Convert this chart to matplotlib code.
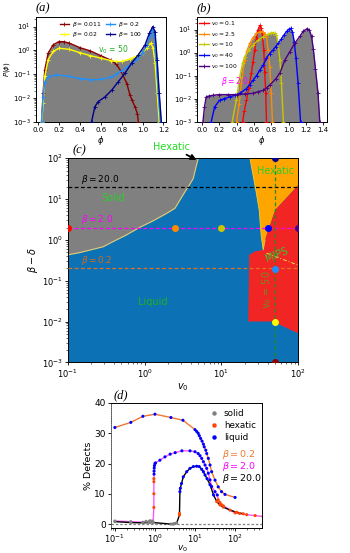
import matplotlib
matplotlib.use('Agg')
import matplotlib.pyplot as plt
import numpy as np

# ---------------- data: panel (a)  P(phi) at v0 = 50 ----------------
a_labels = [r'$\beta = 0.011$', r'$\beta = 0.02$', r'$\beta = 0.2$', r'$\beta = 100$']
a_colors = ['#8B0000', '#FFFF00', '#1E90FF', '#00008B']
a_phi_0011 = [0.033, 0.048, 0.064, 0.096, 0.144, 0.2, 0.25, 0.3, 0.4, 0.5, 0.6, 0.7, 0.75, 0.8, 0.85, 0.88, 0.9, 0.93, 0.95, 0.96]
a_p_0011 = [0.001, 0.016, 0.15, 0.76, 1.7, 2.35, 2.3, 2.0, 1.3, 0.95, 0.6, 0.38, 0.26, 0.12, 0.04, 0.013, 0.008, 0.004, 0.0022, 0.001]
a_phi_002 = [0.035, 0.048, 0.064, 0.096, 0.144, 0.2, 0.3, 0.4, 0.5, 0.6, 0.7, 0.75, 0.8, 0.88, 0.95, 1.0, 1.04, 1.08, 1.1, 1.12, 1.14, 1.16]
a_p_002 = [0.001, 0.006, 0.08, 0.4, 0.9, 1.23, 1.1, 0.8, 0.6, 0.47, 0.37, 0.34, 0.34, 0.43, 0.6, 0.8, 1.23, 2.0, 1.3, 0.3, 0.016, 0.001]
a_phi_02 = [0.033, 0.048, 0.064, 0.096, 0.176, 0.3, 0.4, 0.5, 0.6, 0.7, 0.75, 0.8, 0.85, 0.9, 0.95, 1.0, 1.04, 1.07, 1.09, 1.11, 1.13, 1.15, 1.17]
a_p_02 = [0.001, 0.011, 0.048, 0.079, 0.093, 0.08, 0.065, 0.058, 0.06, 0.075, 0.1, 0.14, 0.2, 0.28, 0.42, 0.8, 1.6, 4.0, 7.5, 4.5, 0.5, 0.016, 0.001]
a_phi_100 = [0.512, 0.544, 0.576, 0.64, 0.704, 0.768, 0.832, 0.896, 0.96, 1.024, 1.066, 1.098, 1.12, 1.14, 1.16, 1.18]
a_p_100 = [0.001, 0.0043, 0.007, 0.011, 0.021, 0.048, 0.11, 0.29, 0.65, 1.7, 5.3, 10, 6, 0.4, 0.016, 0.001]

# ---------------- data: panel (b)  P(phi) at beta = 2 ----------------
b_labels = [r'$v_0 = 0.1$', r'$v_0 = 2.5$', r'$v_0 = 10$', r'$v_0 = 40$', r'$v_0 = 100$']
b_colors = ['#FF0000', '#FF8C00', '#C8C800', '#0000FF', '#4B0082']
b_phi_01 = [0.47, 0.49, 0.514, 0.54, 0.571, 0.59, 0.61, 0.63, 0.648, 0.668, 0.685, 0.7, 0.714, 0.725, 0.737, 0.745]
b_p_01 = [0.001, 0.003, 0.0085, 0.03, 0.126, 0.4, 1.3, 4.5, 10, 15, 12, 5, 1.3, 0.15, 0.017, 0.001]
b_phi_25 = [0.40, 0.43, 0.455, 0.494, 0.52, 0.552, 0.59, 0.629, 0.67, 0.706, 0.73, 0.745, 0.764, 0.783, 0.80, 0.814]
b_p_25 = [0.001, 0.006, 0.046, 0.47, 1.2, 2.5, 4.5, 6.8, 8.0, 8.0, 6.5, 4.9, 1.3, 0.24, 0.017, 0.001]
b_phi_10 = [0.35, 0.397, 0.436, 0.47, 0.494, 0.54, 0.59, 0.65, 0.706, 0.76, 0.80, 0.822, 0.845, 0.86, 0.88, 0.9, 0.918, 0.94]
b_p_10 = [0.001, 0.0085, 0.089, 0.35, 0.66, 1.3, 2.1, 3.5, 4.9, 6.2, 7.2, 7.3, 6.8, 5.7, 2.5, 0.47, 0.046, 0.001]
b_phi_40 = [0.108, 0.147, 0.204, 0.26, 0.32, 0.38, 0.436, 0.513, 0.55, 0.59, 0.63, 0.667, 0.71, 0.745, 0.78, 0.822, 0.85, 0.88, 0.918, 0.95, 0.98, 1.005, 1.025, 1.045, 1.065, 1.085, 1.11, 1.138]
b_p_40 = [0.001, 0.0044, 0.0085, 0.01, 0.012, 0.014, 0.017, 0.027, 0.04, 0.063, 0.1, 0.17, 0.3, 0.56, 0.9, 1.3, 1.8, 2.5, 4.0, 6.0, 8.5, 10.5, 11.2, 8, 3, 0.6, 0.046, 0.001]
b_phi_100 = [0.012, 0.03, 0.05, 0.08, 0.127, 0.2, 0.3, 0.4, 0.5, 0.59, 0.65, 0.706, 0.75, 0.783, 0.85, 0.9, 0.957, 1.015, 1.07, 1.13, 1.17, 1.215, 1.24, 1.265, 1.285, 1.31, 1.34, 1.36]
b_p_100 = [0.001, 0.0044, 0.012, 0.013, 0.014, 0.015, 0.015, 0.015, 0.016, 0.017, 0.02, 0.023, 0.03, 0.039, 0.07, 0.13, 0.47, 1.1, 2.5, 5.0, 8.5, 11, 9.5, 5.0, 1.5, 0.2, 0.017, 0.001]

# ---------------- data: panel (c) phase diagram ----------------
c_solid_v0 = [0.1, 0.145, 0.216, 0.29, 0.39, 0.58, 0.87, 1.3, 1.94, 2.49, 2.89, 3.36, 3.71, 4.3, 4.68, 5.0]
c_solid_bd = [0.43, 0.49, 0.59, 0.68, 0.91, 1.32, 2.04, 2.95, 4.47, 5.96, 9.5, 15.2, 20, 32, 62, 100]
c_hex_v0 = [23.5, 100, 100, 50, 37, 35, 33, 31, 28, 25.5]
c_hex_bd = [100, 100, 22, 5.4, 1.0, 0.57, 1.2, 5.4, 16.7, 43]
c_mips_v0 = [100, 50, 37, 35, 27.3, 23, 22.3, 47, 100]
c_mips_bd = [22, 5.4, 1.0, 0.57, 0.52, 0.43, 0.01, 0.01, 0.0051]
c_mipsline_v0 = [38.7, 100]
c_mipsline_bd = [0.47, 0.24]
c_beta_lines = [20.0, 2.0, 0.2]
c_beta_colors = ['black', '#FF00FF', '#E07020']
c_beta_texts = [r'$\beta = 20.0$', r'$\beta = 2.0$', r'$\beta = 0.2$']
c_v0_line = 50
c_b2_v0 = [0.1, 2.5, 10, 40, 100]
c_v50_bd = [0.001, 0.01, 0.19, 99.99]
c_v50_colors = ['#8B0000', '#FFFF00', '#1E90FF', '#00008B']

# ---------------- data: panel (d) % defects ----------------
d_b02_v0 = [0.1, 0.25, 0.5, 1.0, 2.5, 5.0, 10, 11, 12, 12.8, 13.8, 15, 16.2, 17, 18.6, 19.6, 21.5, 23.7, 26, 31.6, 38, 46, 56, 100]
d_b02_def = [31.9, 33.6, 35.6, 36.3, 35.2, 34.3, 31.2, 30.6, 30.0, 29.2, 28.3, 27.4, 26.4, 25.5, 24.4, 23.3, 21.7, 19.5, 17.3, 14.5, 12.3, 10.7, 9.8, 8.8]
d_b02_phase = ['L'] * 24
d_b2_v0 = [0.1, 0.25, 0.5, 0.6, 0.7, 0.75, 0.8, 0.85, 0.9, 0.94, 0.94, 0.94, 0.94, 0.95, 0.95, 0.96, 0.97, 1.0, 1.03, 1.33, 1.78, 2.4, 3.2, 4.7, 7.5, 10, 12, 13.3, 14.7, 16.2, 17.8, 19.6, 21.5, 23.7, 26, 31.6, 36, 38, 42, 46, 51, 100, 130, 195, 316, 500]
d_b2_def = [1.0, 0.8, 0.6, 0.9, 0.7, 1.1, 0.8, 1.0, 0.7, 5.5, 10, 14, 15, 16.5, 17.5, 18.5, 19.3, 20.0, 20.2, 21.1, 22.2, 23.1, 23.6, 24.2, 24.2, 23.9, 23.3, 22.6, 21.7, 20.6, 19.5, 18.4, 16.8, 14.6, 12.4, 10.7, 9.6, 8.0, 7.1, 6.4, 6.0, 3.7, 3.5, 3.1, 2.8, 2.5]
d_b2_phase = ['S'] * 9 + ['H'] * 4 + ['L'] * 24 + ['H'] * 9
d_b20_v0 = [0.1, 0.25, 0.5, 0.75, 0.9, 2.5, 2.8, 3.0, 3.2, 3.5, 4.1, 4.1, 4.2, 4.3, 4.6, 5.1, 6.2, 7.5, 9.1, 11, 12.7, 14.7, 16.2, 17.8, 20, 23.7, 29, 35, 42, 51, 75, 110, 160]
d_b20_def = [0.8, 0.5, 0.4, 0.5, 0.5, 0.0, 0.0, 0.1, 0.2, 0.4, 3.0, 3.5, 10.7, 11.8, 13.4, 15.6, 17.3, 18.4, 19.0, 19.1, 19.0, 18.1, 17.3, 16.2, 15.0, 13.0, 9.6, 7.4, 6.3, 5.6, 4.6, 3.9, 3.4]
d_b20_phase = ['S'] * 10 + ['H'] * 2 + ['L'] * 15 + ['H'] * 6
d_phase_names = {'S': 'solid', 'H': 'hexatic', 'L': 'liquid'}
d_phase_colors = {'S': '#808080', 'H': '#FF4500', 'L': '#0000FF'}

# ---------------- style ----------------
plt.rcParams.update({
    'font.family': ['DejaVu Sans'],
    'axes.linewidth': 0.7,
    'xtick.major.width': 0.6, 'ytick.major.width': 0.6,
    'xtick.minor.width': 0.4, 'ytick.minor.width': 0.4,
    'xtick.major.size': 2.5, 'ytick.major.size': 2.5,
    'xtick.minor.size': 1.5, 'ytick.minor.size': 1.5,
    'xtick.major.pad': 1.5, 'ytick.major.pad': 1.2,
})

W, H = 350, 553
fig = plt.figure(figsize=(W / 100, H / 100), dpi=100)


def rect(l, t, r, b):
    return [l / W, 1 - b / H, (r - l) / W, (b - t) / H]


axA = fig.add_axes(rect(36, 16.7, 165.5, 121.7))
axB = fig.add_axes(rect(196.7, 16.7, 326.7, 121.7))
axC = fig.add_axes(rect(67.7, 158.3, 298.3, 362.3))
axD = fig.add_axes(rect(111, 403, 262, 528))

GRAY = '#808080'
panel_font = dict(family='Liberation Serif', style='italic', fontsize=9)

# ---------------- panel (a) ----------------
a_series = [(a_phi_0011, a_p_0011), (a_phi_002, a_p_002), (a_phi_02, a_p_02), (a_phi_100, a_p_100)]
for x, y in a_series:
    axA.fill_between(x, y, 1e-5, color=GRAY, lw=0, zorder=1)
for (x, y), c, lab in zip(a_series, a_colors, a_labels):
    axA.plot(x, y, color=c, lw=1.0, marker='+', ms=2.5, mew=0.6, label=lab, zorder=3)
axA.set_yscale('log')
axA.set_ylim(1e-3, 26)
axA.set_xlim(-0.02, 1.22)
axA.set_xticks([0.0, 0.2, 0.4, 0.6, 0.8, 1.0, 1.2])
axA.tick_params(labelsize=5)
axA.set_xlabel(r'$\phi$', fontsize=6, labelpad=0.5)
axA.set_ylabel(r'$P(\phi)$', fontsize=5, labelpad=1)
axA.legend(ncol=2, loc='upper center', fontsize=4.3, frameon=False, handlelength=1.6,
           columnspacing=0.7, labelspacing=0.25, handletextpad=0.4, borderaxespad=0.15)
axA.text(0.72, 1.05, r'v$_0$ = 50', color='#22AA22', fontsize=5.5, ha='center', va='center', zorder=4)
axA.text(0.0, 1.02, '(a)', transform=axA.transAxes, ha='left', va='bottom', **panel_font)

# ---------------- panel (b) ----------------
b_series = [(b_phi_01, b_p_01), (b_phi_25, b_p_25), (b_phi_10, b_p_10), (b_phi_40, b_p_40), (b_phi_100, b_p_100)]
for x, y in b_series:
    axB.fill_between(x, y, 1e-5, color=GRAY, lw=0, zorder=1)
for (x, y), c, lab in zip(b_series, b_colors, b_labels):
    axB.plot(x, y, color=c, lw=1.0, marker='+', ms=2.5, mew=0.6, label=lab, zorder=3)
axB.set_yscale('log')
axB.set_ylim(1e-3, 36)
axB.set_xlim(-0.06, 1.44)
axB.set_xticks([0.0, 0.2, 0.4, 0.6, 0.8, 1.0, 1.2, 1.4])
axB.tick_params(labelsize=5)
axB.set_xlabel(r'$\phi$', fontsize=6, labelpad=0.5)
axB.legend(loc='upper left', fontsize=4.3, frameon=False, handlelength=1.6,
           labelspacing=0.3, handletextpad=0.4, borderaxespad=0.1, borderpad=0.3)
axB.text(0.22, 0.055, r'$\beta = 2.0$', color='#FF00FF', fontsize=5.5, ha='left', va='center', zorder=4)
axB.text(0.0, 1.02, '(b)', transform=axB.transAxes, ha='left', va='bottom', **panel_font)

# ---------------- panel (c) ----------------
axC.set_xscale('log')
axC.set_yscale('log')
axC.set_xlim(0.1, 100)
axC.set_ylim(1e-3, 100)
axC.set_facecolor('#0C72B5')
axC.fill(c_solid_v0 + [0.1], c_solid_bd + [100], color=GRAY, lw=0, zorder=1)
axC.plot(c_solid_v0, c_solid_bd, color='#E6CF72', lw=0.8, zorder=2)
axC.fill(c_hex_v0, c_hex_bd, color='#FFA500', lw=0, zorder=1)
axC.plot(c_hex_v0[4:] + [c_hex_v0[0]], c_hex_bd[4:] + [c_hex_bd[0]], color='#F2D030', lw=0.6, zorder=2)
axC.fill(c_mips_v0, c_mips_bd, color='#F22525', lw=0, zorder=1)
axC.plot(c_mipsline_v0, c_mipsline_bd, color='#F0E040', lw=0.7, ls=(0, (4, 2, 1, 2)), zorder=2)
for b, col in zip(c_beta_lines, c_beta_colors):
    axC.axhline(b, color=col, ls=(0, (3, 2)), lw=0.9, zorder=3)
axC.axvline(c_v0_line, color='#1E8C1E', ls=(0, (3, 2)), lw=0.9, zorder=3)
for v, col in zip(c_b2_v0, b_colors):
    axC.plot([v], [c_beta_lines[1]], 'o', color=col, ms=4, zorder=4)
for b, col in zip(c_v50_bd, c_v50_colors):
    axC.plot([c_v0_line], [b], 'o', color=col, ms=4, zorder=4)
text_y = [31, 3.2, 0.32]
text_cols = ['black', '#FF00FF', '#D2691E']
for t, yy, col in zip(c_beta_texts, text_y, text_cols):
    axC.text(0.149, yy, t, color=col, fontsize=6.5, ha='left', va='center', zorder=5)
GREEN = '#2DCC2D'
axC.text(0.39, 10.5, 'Solid', color=GREEN, fontsize=7, ha='center', va='center', zorder=5)
axC.text(1.27, 0.03, 'Liquid', color='#1FB01F', fontsize=7, ha='center', va='center', zorder=5)
axC.text(51, 49, 'Hexatic', color=GREEN, fontsize=7, ha='center', va='center', zorder=5)
axC.text(52, 0.43, 'MIPS', color=GREEN, fontsize=7, ha='center', va='center', rotation=22, zorder=5)
axC.text(38.7, 0.059, r'v$_0$ = 50', color='#6B8E23', fontsize=7, ha='center', va='center', rotation=90, zorder=5)
axC.annotate('Hexatic', xy=(4.75, 91), xytext=(2.25, 190), color='#22DD22', fontsize=7,
             ha='center', va='center', annotation_clip=False,
             arrowprops=dict(arrowstyle='-|>', color='black', lw=1.3, mutation_scale=8,
                             shrinkA=0, shrinkB=0))
axC.tick_params(labelsize=6)
axC.set_xlabel(r'$v_0$', fontsize=7, labelpad=1)
axC.set_ylabel(r'$\beta - \delta$', fontsize=7, labelpad=1)
axC.text(0.02, 1.01, '(c)', transform=axC.transAxes, ha='left', va='bottom', **panel_font)

# ---------------- panel (d) ----------------
axD.set_xscale('log')
axD.set_xlim(0.08, 470)
axD.set_ylim(-1.3, 40)
axD.axhline(0, color='gray', ls=(0, (2, 1.5)), lw=0.9, zorder=1)
d_series = [(d_b02_v0, d_b02_def, d_b02_phase, '#F07830'),
            (d_b2_v0, d_b2_def, d_b2_phase, '#FF55FF'),
            (d_b20_v0, d_b20_def, d_b20_phase, 'black')]
for x, y, ph, lc in d_series:
    axD.plot(x, y, color=lc, lw=1.0, zorder=2)
for x, y, ph, lc in d_series:
    cols = [d_phase_colors[p] for p in ph]
    axD.scatter(x, y, c=cols, s=5, lw=0, zorder=3)
for key in ['S', 'H', 'L']:
    axD.plot([], [], 'o', color=d_phase_colors[key], ms=2.2, label=d_phase_names[key])
axD.legend(loc='upper right', fontsize=6.3, frameon=False, handlelength=1.0,
           handletextpad=0.6, labelspacing=0.35, borderaxespad=0.3)
axD.text(46, 23, r'$\beta = 0.2$', color='#F07830', fontsize=6.8, ha='left', va='center')
axD.text(46, 18.9, r'$\beta = 2.0$', color='#FF00FF', fontsize=6.8, ha='left', va='center')
axD.text(46, 14.9, r'$\beta = 20.0$', color='black', fontsize=6.8, ha='left', va='center')
axD.set_yticks([0, 10, 20, 30, 40])
axD.tick_params(axis='y', labelsize=6.5)
axD.tick_params(axis='x', labelsize=6, pad=1.0)
axD.spines['left'].set_linestyle((0, (1, 1.2)))
axD.spines['left'].set_color('#555555')
axD.set_xlabel(r'$v_0$', fontsize=6.5)
axD.xaxis.set_label_coords(0.47, -0.12)
axD.set_ylabel('% Defects', fontsize=6.8, labelpad=1)
axD.text(0.02, 1.01, '(d)', transform=axD.transAxes, ha='left', va='bottom', **panel_font)

fig.savefig('out.png', dpi=100)
